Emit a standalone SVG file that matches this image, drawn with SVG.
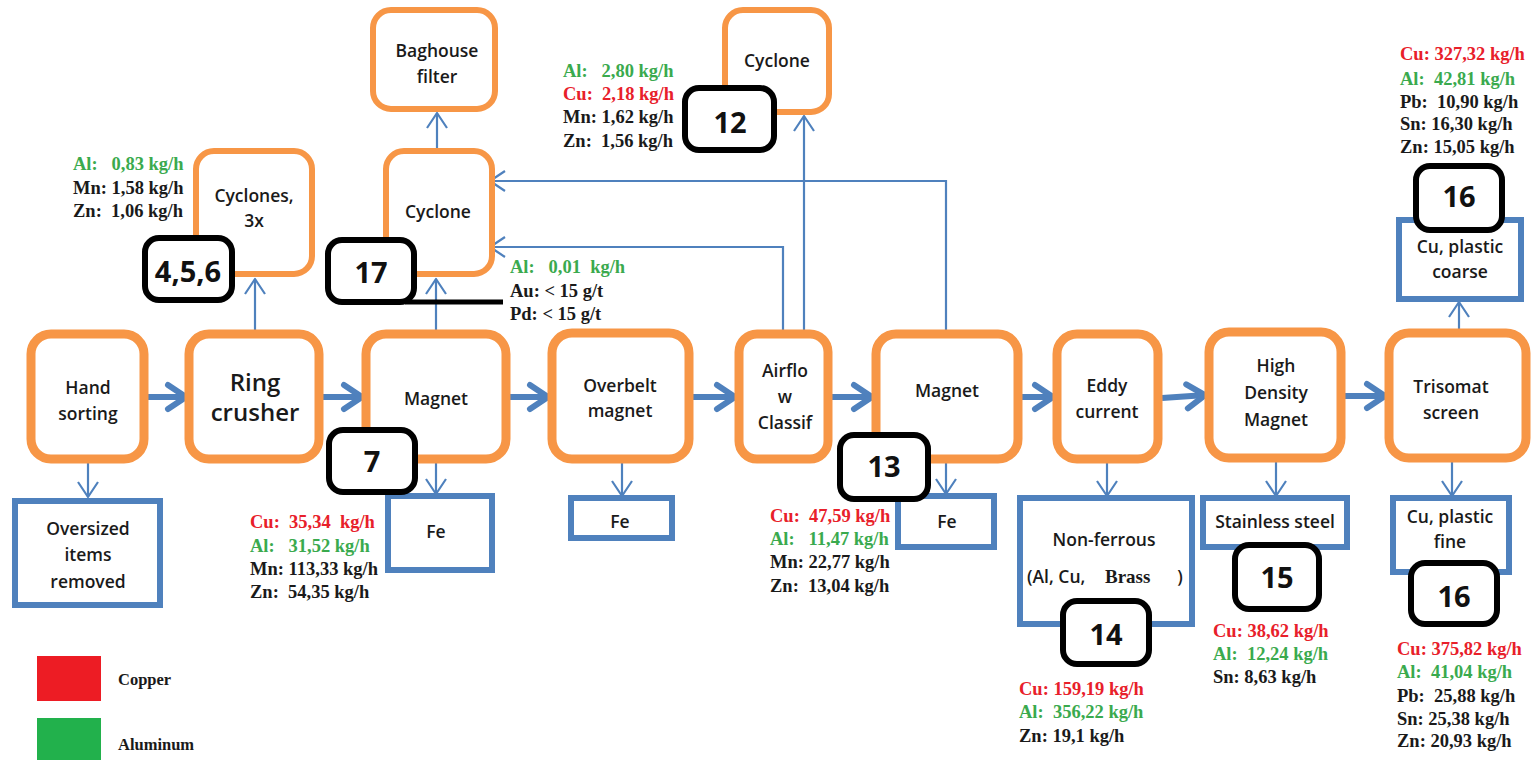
<svg xmlns="http://www.w3.org/2000/svg" width="1535" height="760" viewBox="0 0 1535 760">
<defs>
<style>
.proc{fill:#fff;stroke:#F79646;stroke-width:9}
.sub{fill:#fff;stroke:#F79646;stroke-width:6}
.out{fill:#fff;stroke:#4F81BD;stroke-width:6}
.num{fill:#fff;stroke:#000;stroke-width:6}
.lbl{font-family:"Open Sans","Liberation Sans",sans-serif;font-weight:600;font-size:17.5px;fill:#1a1a1a;text-anchor:middle}
.big{font-size:24px}
.nt{font-family:"Open Sans","Liberation Sans",sans-serif;font-weight:700;font-size:29px;fill:#111;text-anchor:middle}
.d{font-family:"Liberation Serif","Times New Roman",serif;font-weight:bold;font-size:18.5px;fill:#1a1a1a}
.r{fill:#E8202A}
.g{fill:#3AAA4E}
.thick{stroke:#4F81BD;stroke-width:6;fill:none;marker-end:url(#ah)}
.thin{stroke:#4F81BD;stroke-width:2.2;fill:none;marker-end:url(#at)}
</style>
<marker id="ah" markerUnits="userSpaceOnUse" markerWidth="30" markerHeight="30" refX="0" refY="0" orient="auto" overflow="visible">
<path d="M-19,-12 L-1,0 L-19,12" fill="none" stroke="#4F81BD" stroke-width="6" stroke-linejoin="round" stroke-linecap="round"/>
</marker>
<marker id="at" markerUnits="userSpaceOnUse" markerWidth="30" markerHeight="30" refX="0" refY="0" orient="auto" overflow="visible">
<path d="M-15,-10 L0,0 L-15,10" fill="none" stroke="#4F81BD" stroke-width="2.2" stroke-linejoin="round"/>
</marker>
</defs>
<rect width="1535" height="760" fill="#fff"/>

<g id="connectors">
<path class="thick" d="M148,397 L187,397"/>
<path class="thick" d="M323,397 L363,397"/>
<path class="thick" d="M510,397 L549,397"/>
<path class="thick" d="M693,397 L736,397"/>
<path class="thick" d="M832,397 L873,397"/>
<path class="thick" d="M1022,397 L1054,397"/>
<path class="thick" d="M1162,398 L1206,395"/>
<path class="thick" d="M1345,396 L1386,396"/>
<path class="thin" d="M88,462 L88,497"/>
<path class="thin" d="M255,330 L255,279"/>
<path class="thin" d="M436,330 L436,279"/>
<path class="thin" d="M437,148 L437,113"/>
<path class="thin" d="M436,463 L436,494"/>
<path class="thin" d="M622,463 L622,496"/>
<path class="thin" d="M783,330 L783,247 L490,247"/>
<path class="thin" d="M804,330 L804,116"/>
<path class="thin" d="M946,330 L946,181 L490,181"/>
<path class="thin" d="M946,463 L946,494"/>
<path class="thin" d="M1107,463 L1107,496"/>
<path class="thin" d="M1276,462 L1276,496"/>
<path class="thin" d="M1452,462 L1452,496"/>
<path class="thin" d="M1459,330 L1459,302"/>
</g>

<g id="hand-sorting"><rect class="proc" x="31" y="334" width="113" height="125" rx="20"/><text class="lbl" x="88" y="394">Hand</text><text class="lbl" x="88" y="420">sorting</text></g>
<g id="ring-crusher"><rect class="proc" x="189" y="334" width="130" height="125" rx="20"/><text class="lbl big" x="255" y="391">Ring</text><text class="lbl big" x="255" y="421">crusher</text></g>
<g id="magnet-1"><rect class="proc" x="366" y="334" width="140" height="125" rx="20"/><text class="lbl" x="436" y="405">Magnet</text></g>
<g id="overbelt-magnet"><rect class="proc" x="552" y="333" width="137" height="126" rx="20"/><text class="lbl" x="620" y="392">Overbelt</text><text class="lbl" x="620" y="417">magnet</text></g>
<g id="airflow-classif"><rect class="proc" x="739" y="334" width="89" height="125" rx="18"/><text class="lbl" x="785" y="377">Airflo</text><text class="lbl" x="785" y="403">w</text><text class="lbl" x="785" y="429">Classif</text></g>
<g id="magnet-2"><rect class="proc" x="876" y="334" width="142" height="125" rx="20"/><text class="lbl" x="947" y="397">Magnet</text></g>
<g id="eddy-current"><rect class="proc" x="1057" y="334" width="101" height="125" rx="20"/><text class="lbl" x="1107" y="392">Eddy</text><text class="lbl" x="1107" y="418">current</text></g>
<g id="high-density-magnet"><rect class="proc" x="1209" y="332" width="132" height="126" rx="20"/><text class="lbl" x="1276" y="372">High</text><text class="lbl" x="1276" y="399">Density</text><text class="lbl" x="1276" y="426">Magnet</text></g>
<g id="trisomat-screen"><rect class="proc" x="1389" y="333" width="137" height="125" rx="20"/><text class="lbl" x="1451" y="393">Trisomat</text><text class="lbl" x="1451" y="419">screen</text></g>

<g id="cyclones-3x"><rect class="sub" x="196" y="151" width="116" height="123" rx="18"/><text class="lbl" x="254" y="202">Cyclones,</text><text class="lbl" x="254" y="227">3x</text></g>
<g id="cyclone-left"><rect class="sub" x="386" y="151" width="106" height="123" rx="18"/><text class="lbl" x="438" y="218">Cyclone</text></g>
<g id="baghouse-filter"><rect class="sub" x="373" y="10" width="122" height="99" rx="18"/><text class="lbl" x="437" y="57">Baghouse</text><text class="lbl" x="437" y="83">filter</text></g>
<g id="cyclone-right"><rect class="sub" x="725" y="10" width="104" height="102" rx="18"/><text class="lbl" x="777" y="67">Cyclone</text></g>

<g id="oversized"><rect class="out" x="15" y="501" width="145" height="104"/><text class="lbl" x="88" y="535">Oversized</text><text class="lbl" x="88" y="561">items</text><text class="lbl" x="88" y="588">removed</text></g>
<g id="fe-1"><rect class="out" x="388" y="496" width="104" height="74"/><text class="lbl" x="436" y="538">Fe</text></g>
<g id="fe-2"><rect class="out" x="571" y="498" width="101" height="40"/><text class="lbl" x="620" y="528">Fe</text></g>
<g id="fe-3"><rect class="out" x="898" y="496" width="96" height="51"/><text class="lbl" x="947" y="528">Fe</text></g>
<g id="non-ferrous"><rect class="out" x="1020" y="498" width="172" height="126"/><text class="lbl" x="1104" y="546">Non-ferrous</text><text class="lbl" x="1027" y="583" style="text-anchor:start">(Al, Cu,</text><text class="d" x="1105" y="583" style="font-size:19px">Brass</text><text class="lbl" x="1180" y="583">)</text></g>
<g id="stainless-steel"><rect class="out" x="1203" y="498" width="144" height="49"/><text class="lbl" x="1275" y="528">Stainless steel</text></g>
<g id="cu-plastic-fine"><rect class="out" x="1393" y="498" width="116" height="74"/><text class="lbl" x="1450" y="523">Cu, plastic</text><text class="lbl" x="1450" y="548">fine</text></g>
<g id="cu-plastic-coarse"><rect class="out" x="1399" y="220" width="122" height="79"/><text class="lbl" x="1460" y="253">Cu, plastic</text><text class="lbl" x="1460" y="278">coarse</text></g>

<g id="tag-456"><rect class="num" x="145" y="238" width="87" height="62" rx="14"/><text class="nt" x="188" y="282">4,5,6</text></g>
<g id="tag-17"><rect class="num" x="328" y="240" width="86" height="62" rx="14"/><line x1="405" y1="302" x2="503" y2="302" stroke="#000" stroke-width="5"/><text class="nt" x="371" y="283">17</text></g>
<g id="tag-12"><rect class="num" x="685" y="88" width="89" height="62" rx="14"/><text class="nt" x="730" y="133">12</text></g>
<g id="tag-7"><rect class="num" x="329" y="430" width="86" height="62" rx="14"/><text class="nt" x="372" y="472">7</text></g>
<g id="tag-13"><rect class="num" x="840" y="435" width="88" height="64" rx="14"/><text class="nt" x="884" y="477">13</text></g>
<g id="tag-14"><rect class="num" x="1063" y="601" width="86" height="63" rx="14"/><text class="nt" x="1106" y="645">14</text></g>
<g id="tag-15"><rect class="num" x="1235" y="545" width="84" height="64" rx="14"/><text class="nt" x="1277" y="588">15</text></g>
<g id="tag-16-fine"><rect class="num" x="1411" y="563" width="86" height="61" rx="14"/><text class="nt" x="1454" y="607">16</text></g>
<g id="tag-16-coarse"><rect class="num" x="1416" y="166" width="86" height="64" rx="14"/><text class="nt" x="1459" y="207">16</text></g>

<g id="data-labels">
<text class="d g" x="73" y="170" xml:space="preserve">Al:   0,83 kg/h</text>
<text class="d" x="73" y="194">Mn: 1,58 kg/h</text>
<text class="d" x="73" y="217" xml:space="preserve">Zn:  1,06 kg/h</text>

<text class="d g" x="563" y="77" xml:space="preserve">Al:   2,80 kg/h</text>
<text class="d r" x="563" y="100" xml:space="preserve">Cu:  2,18 kg/h</text>
<text class="d" x="563" y="123">Mn: 1,62 kg/h</text>
<text class="d" x="563" y="147" xml:space="preserve">Zn:  1,56 kg/h</text>

<text class="d g" x="510" y="273" xml:space="preserve">Al:   0,01  kg/h</text>
<text class="d" x="510" y="297">Au: &lt; 15 g/t</text>
<text class="d" x="510" y="320">Pd: &lt; 15 g/t</text>

<text class="d r" x="250" y="528" xml:space="preserve">Cu:  35,34  kg/h</text>
<text class="d g" x="250" y="552" xml:space="preserve">Al:   31,52 kg/h</text>
<text class="d" x="250" y="575">Mn: 113,33 kg/h</text>
<text class="d" x="250" y="598" xml:space="preserve">Zn:  54,35 kg/h</text>

<text class="d r" x="770" y="522" xml:space="preserve">Cu:  47,59 kg/h</text>
<text class="d g" x="770" y="545" xml:space="preserve">Al:   11,47 kg/h</text>
<text class="d" x="770" y="568">Mn: 22,77 kg/h</text>
<text class="d" x="770" y="592" xml:space="preserve">Zn:  13,04 kg/h</text>

<text class="d r" x="1019" y="695">Cu: 159,19 kg/h</text>
<text class="d g" x="1019" y="718" xml:space="preserve">Al:  356,22 kg/h</text>
<text class="d" x="1019" y="742">Zn: 19,1 kg/h</text>

<text class="d r" x="1213" y="637">Cu: 38,62 kg/h</text>
<text class="d g" x="1213" y="660" xml:space="preserve">Al:  12,24 kg/h</text>
<text class="d" x="1213" y="683">Sn: 8,63 kg/h</text>

<text class="d r" x="1397" y="655">Cu: 375,82 kg/h</text>
<text class="d g" x="1397" y="678" xml:space="preserve">Al:  41,04 kg/h</text>
<text class="d" x="1397" y="702" xml:space="preserve">Pb:  25,88 kg/h</text>
<text class="d" x="1397" y="725">Sn: 25,38 kg/h</text>
<text class="d" x="1397" y="747">Zn: 20,93 kg/h</text>

<text class="d r" x="1400" y="60">Cu: 327,32 kg/h</text>
<text class="d g" x="1400" y="85" xml:space="preserve">Al:  42,81 kg/h</text>
<text class="d" x="1400" y="108" xml:space="preserve">Pb:  10,90 kg/h</text>
<text class="d" x="1400" y="130">Sn: 16,30 kg/h</text>
<text class="d" x="1400" y="153">Zn: 15,05 kg/h</text>
</g>

<g id="legend">
<rect x="37" y="656" width="64" height="45" fill="#ED1C24"/>
<rect x="37" y="718" width="64" height="45" fill="#22B14C"/>
<text class="d" x="118" y="685" style="font-size:16.5px">Copper</text>
<text class="d" x="118" y="750" style="font-size:16.5px">Aluminum</text>
</g>
</svg>
